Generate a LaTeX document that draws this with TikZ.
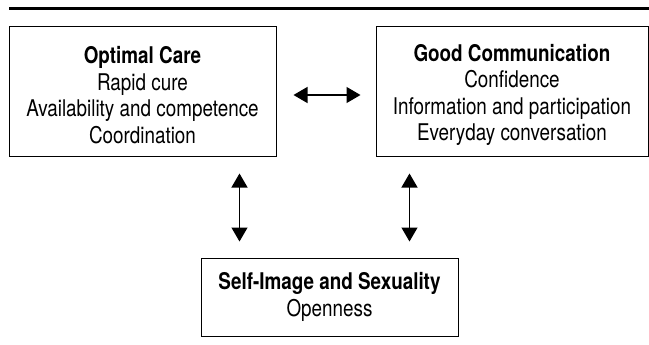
\documentclass[tikz,border=0pt]{standalone}
\usepackage{fontspec}
\setmainfont{TeX Gyre Heros}[FakeStretch=0.82]
\usetikzlibrary{arrows.meta, positioning}

\tikzset{
  themebox/.style={rectangle, draw=black, line width=1pt, inner sep=0pt, align=center, font=\fontsize{23}{26.5}\selectfont},
  link/.style={{Triangle[width=16pt,length=14pt]}-{Triangle[width=16pt,length=14pt]}, line width=1.3pt}
}

\begin{document}
\begin{tikzpicture}[x=1pt, y=-1pt]
\useasboundingbox (0,0) rectangle (649,345);
% rule above the figure
\draw[line width=3pt] (9,9) -- (649,9);

\node[themebox, minimum width=267pt, minimum height=130pt] (care) at (142.5,92) {\rule{0pt}{23pt}{\bfseries Optimal Care}\\Rapid cure\\Availability and competence\\Coordination};
\node[themebox, minimum width=272pt, minimum height=130pt] (comm) at (512,92) {\rule{0pt}{23pt}{\bfseries Good Communication}\\Confidence\\Information and participation\\Everyday conversation};
\node[themebox, minimum width=257pt, minimum height=78pt] (self) at (329.5,297) {{\bfseries Self-Image and Sexuality}\\Openness};

\draw[link, shorten <=17pt, shorten >=15pt] ([yshift=-3pt]care.east) -- ([yshift=-3pt]comm.west);
\draw[link, shorten <=16pt, shorten >=16pt] ([xshift=39pt]self.north west |- care.south) -- ([xshift=39pt]self.north west);
\draw[link, shorten <=16pt, shorten >=16pt] ([xshift=-49pt]self.north east |- comm.south) -- ([xshift=-49pt]self.north east);
\end{tikzpicture}
\end{document}
